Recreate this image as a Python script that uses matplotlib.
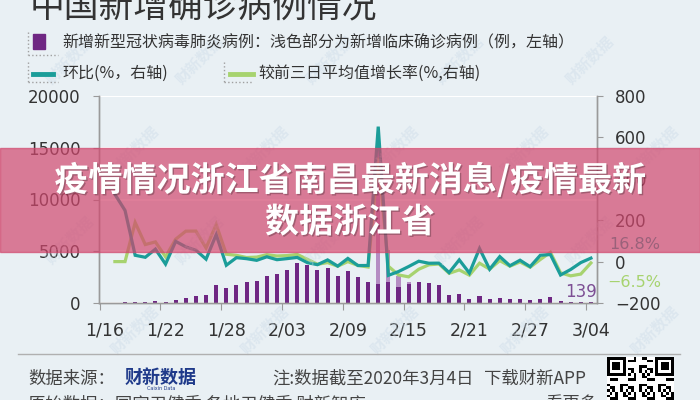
import numpy as np
import matplotlib
matplotlib.use('Agg')
import matplotlib.pyplot as plt
from matplotlib.patches import Rectangle
from matplotlib.lines import Line2D
import matplotlib.patheffects as pe

plt.rcParams['font.family'] = ['DejaVu Sans', 'Noto Sans CJK SC']

# 日期 1/16 - 3/04
dates = ['1/16', '1/17', '1/18', '1/19', '1/20', '1/21', '1/22', '1/23', '1/24', '1/25',
         '1/26', '1/27', '1/28', '1/29', '1/30', '1/31', '2/01', '2/02', '2/03', '2/04',
         '2/05', '2/06', '2/07', '2/08', '2/09', '2/10', '2/11', '2/12', '2/13', '2/14',
         '2/15', '2/16', '2/17', '2/18', '2/19', '2/20', '2/21', '2/22', '2/23', '2/24',
         '2/25', '2/26', '2/27', '2/28', '2/29', '3/01', '3/02', '3/03', '3/04']

# 新增确诊（例）
new_cases = [4, 17, 59, 77, 93, 149, 131, 259, 444, 688,
             769, 1771, 1459, 1737, 1982, 2102, 2590, 2829, 3235, 3887,
             3694, 3143, 3399, 2656, 3062, 2478, 2015, 15152, 5090, 2641,
             2009, 2048, 1886, 1749, 820, 889, 397, 648, 409, 508,
             406, 433, 327, 427, 573, 202, 125, 119, 139]

# 其中新增临床诊断病例（浅色部分）
clinical = [0] * 27 + [13332, 3095, 1138, 166, 46] + [0] * 17

# 环比(%)
dod_pct = [np.nan, 325.0, 247.1, 30.5, 20.8, 60.2, -12.1, 97.7, 71.4, 55.0,
           11.8, 130.3, -17.6, 19.1, 14.1, 6.1, 23.2, 9.2, 14.4, 20.2,
           -5.0, -14.9, 8.1, -21.9, 15.3, -19.1, -18.7, 652.0, -66.4, -48.1,
           -23.9, 1.9, -7.9, -7.3, -53.1, 8.4, -55.3, 63.2, -36.9, 24.2,
           -20.1, 6.7, -24.5, 30.6, 34.2, -64.7, -38.1, -4.8, 16.8]

# 较前三日平均值增长率(%)
avg3_pct = [np.nan, 0.0, 0.0, 188.8, 82.4, 95.2, 23.2, 108.3, 147.1, 147.5,
            65.9, 179.5, 35.6, 30.3, 19.7, 21.8, 33.5, 27.2, 29.0, 34.7,
            11.4, -12.8, -4.9, -22.2, -0.1, -18.5, -26.2, 501.7, -22.3, -64.4,
            -73.7, -36.9, -15.5, -11.7, -56.7, -40.1, -65.6, -7.7, -36.6, 4.8,
            -22.2, -1.8, -27.2, 9.9, 44.8, -54.3, -68.8, -60.3, -6.5]

BG = '#e9f0f4'
PURPLE = '#6f2783'
LIGHT_PURPLE = '#b58dc3'
TEAL = '#1b9d99'
GREEN = '#a7d36f'
TXT = '#333333'
AXC = '#9a9a9a'
CJK = ['Noto Sans CJK SC', 'DejaVu Sans']

W, H = 700, 400


def fx(px):
    return px / W


def fy(py):
    return 1 - py / H


fig = plt.figure(figsize=(7, 4), dpi=100, facecolor=BG)

# 水印
for row in range(4):
    for col in range(5):
        fig.text(fx(70 + col * 130 + (row % 2) * 65), fy(60 + row * 90), '财新数据',
                 rotation=45, fontsize=11, fontweight='bold', color='#c9d9e7',
                 alpha=0.4, ha='center', va='center', family=CJK, zorder=1)

# 主图
ax = fig.add_axes([fx(98.7), fy(303), (597 - 98.7) / W, 207 / H])
ax.set_facecolor(BG)
x = np.arange(len(dates))
lab = np.array(new_cases) - np.array(clinical)
ax.bar(x, lab, width=0.4, color=PURPLE, zorder=2)
ax.bar(x, clinical, bottom=lab, width=0.4, color=LIGHT_PURPLE, zorder=2)
ax.set_xlim(-0.6, len(dates) - 0.4)
ax.set_ylim(0, 20000)
ax.set_yticks(range(0, 20001, 5000))
ax.yaxis.grid(True, color='white', lw=1.5)
ax.set_axisbelow(True)

tick_idx = x[::6]
ax.set_xticks(tick_idx - 0.5)
ax.set_xticklabels([])
ax.set_xticks(tick_idx, [dates[i] for i in tick_idx], minor=True)
ax.tick_params(axis='x', which='major', length=5, color=AXC, direction='out')
ax.tick_params(axis='x', which='minor', length=0, pad=13, labelsize=12.5, labelcolor=TXT)
ax.tick_params(axis='y', length=4, color=AXC, pad=9, labelsize=12, labelcolor=TXT)

ax2 = ax.twinx()
ax2.plot(x, avg3_pct, color=GREEN, lw=2.3, solid_joinstyle='miter')
ax2.plot(x, dod_pct, color=TEAL, lw=2.3, solid_joinstyle='miter')
ax2.set_ylim(-200, 800)
ax2.set_yticks(range(-200, 801, 200))
ax2.tick_params(axis='y', length=4, color=AXC, pad=9, labelsize=12, labelcolor=TXT)

for a in (ax, ax2):
    a.spines['top'].set_visible(False)
    for s in ('left', 'right', 'bottom'):
        a.spines[s].set_color(AXC)
        a.spines[s].set_linewidth(1)

ax2.annotate(f'{dod_pct[-1]:.1f}%', xy=(1, dod_pct[-1]), xycoords=('axes fraction', 'data'),
             xytext=(12, 14), textcoords='offset pixels', ha='left', va='center',
             color=TEAL, fontsize=11.5)
ax2.annotate(f'{avg3_pct[-1]:.1f}%'.replace('-', '\u2212'), xy=(1, avg3_pct[-1]),
             xycoords=('axes fraction', 'data'), xytext=(10, -20), textcoords='offset pixels',
             ha='left', va='center', color=GREEN, fontsize=11.5)
ax.annotate(str(new_cases[-1]), xy=(x[-1], new_cases[-1]), xytext=(6, 10),
            textcoords='offset pixels', ha='right', va='center', color='#7d4f94', fontsize=12)

# 标题和图例
fig.text(fx(30), fy(8), '中国新增确诊病例情况', fontsize=25, color=TXT, family=CJK,
         fontweight='light', ha='left', va='center')

dot = dict(color='#a0a0a0', lw=1, ls=':', transform=fig.transFigure)
fig.add_artist(Line2D([fx(28), fx(28)], [fy(32), fy(55)], **dot))
fig.add_artist(Line2D([fx(28), fx(58)], [fy(55), fy(55)], **dot))
fig.add_artist(Rectangle((fx(33), fy(49)), 12 / W, 15 / H, color=PURPLE, transform=fig.transFigure))
fig.text(fx(62), fy(43), '新增新型冠状病毒肺炎病例：浅色部分为新增临床确诊病例（例，左轴）',
         fontsize=11.5, color=TXT, family=CJK, ha='left', va='center')

fig.add_artist(Line2D([fx(28), fx(28)], [fy(62), fy(82)], **dot))
fig.add_artist(Line2D([fx(28), fx(58)], [fy(82), fy(82)], **dot))
fig.add_artist(Line2D([fx(33), fx(53)], [fy(74), fy(74)], color=TEAL, lw=3.5,
                      transform=fig.transFigure))
fig.text(fx(62), fy(73), '环比(%，右轴)', fontsize=11.5, color=TXT, family=CJK,
         ha='left', va='center')

fig.add_artist(Line2D([fx(224), fx(224)], [fy(62), fy(82)], **dot))
fig.add_artist(Line2D([fx(224), fx(252)], [fy(82), fy(82)], **dot))
fig.add_artist(Line2D([fx(230), fx(253)], [fy(74), fy(74)], color=GREEN, lw=3.5,
                      transform=fig.transFigure))
fig.text(fx(258), fy(73), '较前三日平均值增长率(%,右轴)', fontsize=11.5, color=TXT, family=CJK,
         ha='left', va='center')

# 底部信息
fig.add_artist(Line2D([fx(18), fx(680)], [fy(354), fy(354)], color='#b0b0b0', lw=1,
                      transform=fig.transFigure))
fig.text(fx(28), fy(379), '数据来源：', fontsize=12.5, color='#444444', family=CJK,
         ha='left', va='center')
fig.text(fx(161), fy(377), '财新数据', fontsize=13, color='#1f3a8a', family=CJK,
         fontweight='bold', ha='center', va='center')
fig.text(fx(161), fy(389), 'Caixin Data', fontsize=3.5, color='#1f3a8a', ha='center', va='center')
fig.text(fx(272), fy(379), '注:数据截至2020年3月4日', fontsize=12.5, color='#444444', family=CJK,
         ha='left', va='center')
fig.text(fx(484), fy(379), '下载财新APP', fontsize=12.5, color='#444444', family=CJK,
         ha='left', va='center')
fig.text(fx(28), fy(405), '原始数据：国家卫健委 各地卫健委 财新智库', fontsize=12.5, color='#444444',
         family=CJK, ha='left', va='center')
fig.text(fx(598), fy(405), '看更多', fontsize=12.5, color='#444444', family=CJK,
         ha='right', va='center')

# 二维码（装饰）
n = 25
ii, jj = np.mgrid[0:n, 0:n]
qr = ((ii * 3 + jj * 5 + ii * jj) % 7 < 3).astype(float)
finder = np.ones((7, 7))
finder[1:6, 1:6] = 0
finder[2:5, 2:5] = 1
for r, c in [(0, 0), (0, n - 7), (n - 7, 0)]:
    qr[max(r - 1, 0):r + 8, max(c - 1, 0):c + 8] = 0
    qr[r:r + 7, c:c + 7] = finder
qax = fig.add_axes([fx(607), fy(424), 67 / W, 67 / H])
qax.imshow(qr, cmap='gray_r', aspect='auto', interpolation='nearest')
qax.axis('off')

# 标题横幅
fig.add_artist(Rectangle((0, fy(252)), 1, 104 / H, color='#d1486e', alpha=0.7,
                         transform=fig.transFigure, zorder=10))
shadow = [pe.withSimplePatchShadow(offset=(1, -1), shadow_rgbFace='k', alpha=0.25)]
fig.text(0.5, fy(180), '疫情情况浙江省南昌最新消息/疫情最新', fontsize=24.5, color='white',
         fontweight='bold', family=CJK, ha='center', va='center', zorder=11, path_effects=shadow)
fig.text(0.5, fy(222), '数据浙江省', fontsize=24.5, color='white',
         fontweight='bold', family=CJK, ha='center', va='center', zorder=11, path_effects=shadow)

fig.savefig('out.png', dpi=100, facecolor=BG)
